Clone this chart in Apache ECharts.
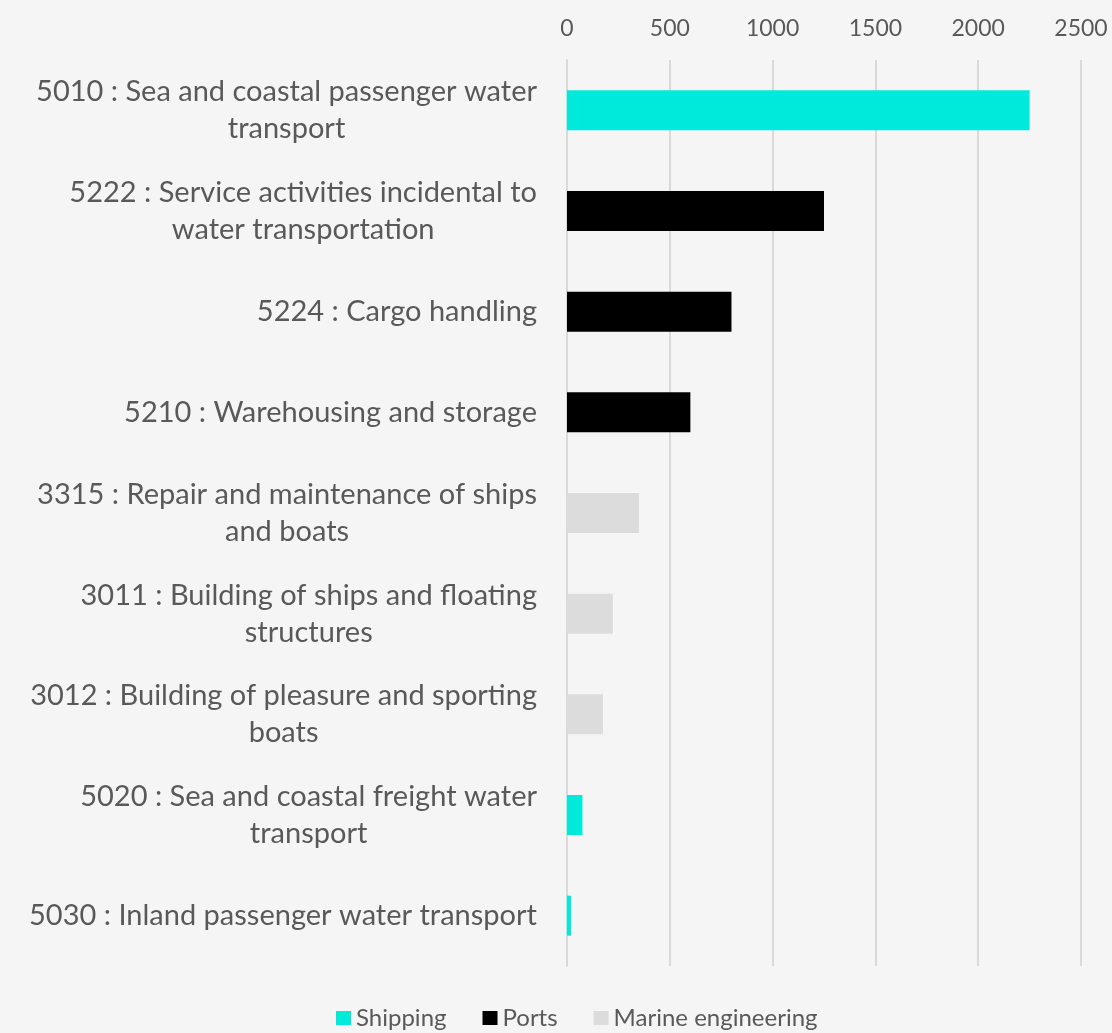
<!DOCTYPE html>
<html>
<head>
<meta charset="utf-8">
<script src="https://cdn.jsdelivr.net/npm/echarts@6/dist/echarts.min.js"></script>
<style>
html,body{margin:0;padding:0;background:#f5f5f5;}
#chart{width:1112px;height:1033px;}
</style>
</head>
<body>
<div id="chart"></div>
<script>
// Categories (top to bottom as shown)
const categories = [
  "5010 : Sea and coastal passenger water\ntransport",
  "5222 : Service activities incidental to\nwater transportation",
  "5224 : Cargo handling",
  "5210 : Warehousing and storage",
  "3315 : Repair and maintenance of ships\nand boats",
  "3011 : Building of ships and floating\nstructures",
  "3012 : Building of pleasure and sporting\nboats",
  "5020 : Sea and coastal freight water\ntransport",
  "5030 : Inland passenger water transport"
];
const shipping = [2250, null, null, null, null, null, null, 75, 20];
const ports = [null, 1250, 800, 600, null, null, null, null, null];
const marine = [null, null, null, null, 350, 223, 175, null, null];
const seriesNames = ["Shipping", "Ports", "Marine engineering"];
const xTicks = {min: 0, max: 2500, interval: 500};

const colors = ["#00EADC", "#000000", "#DCDCDC"];
const font = "Lato, 'Open Sans', sans-serif";

const chart = echarts.init(document.getElementById('chart'));
const mk = (name, data, color) => ({
  name, type: 'bar', stack: 'all', data, barWidth: 40,
  itemStyle: {color},
  emphasis: {disabled: true}
});
chart.setOption({
  backgroundColor: '#f5f5f5',
  animation: false,
  color: colors,
  grid: {left: 567, right: 31, top: 60, bottom: 67, containLabel: false},
  legend: {
    bottom: -2, left: 331,
    itemWidth: 15, itemHeight: 14, itemGap: 36,
    icon: 'rect',
    textStyle: {fontFamily: font, fontSize: 24, color: '#595959'},
    data: seriesNames
  },
  xAxis: {
    type: 'value', position: 'top',
    min: xTicks.min, max: xTicks.max, interval: xTicks.interval,
    axisLine: {show: false}, axisTick: {show: false},
    splitLine: {lineStyle: {color: '#d9d9d9', width: 2}},
    axisLabel: {fontFamily: font, fontSize: 23, color: '#595959', margin: 20,
      formatter: v => String(v)}
  },
  yAxis: {
    type: 'category', inverse: true, data: categories,
    axisLine: {show: true, lineStyle: {color: '#d9d9d9', width: 2}},
    axisTick: {show: false},
    axisLabel: {fontFamily: font, fontSize: 29, color: '#595959', margin: 30,
      align: 'right', lineHeight: 37,
      formatter: v => v.split('\n').map(s => '{c|' + s + '}').join('\n'),
      rich: {c: {align: 'center', fontFamily: font, fontSize: 29, color: '#595959', lineHeight: 37}}}
  },
  series: [
    mk(seriesNames[0], shipping, colors[0]),
    mk(seriesNames[1], ports, colors[1]),
    mk(seriesNames[2], marine, colors[2])
  ]
});
</script>
</body>
</html>
